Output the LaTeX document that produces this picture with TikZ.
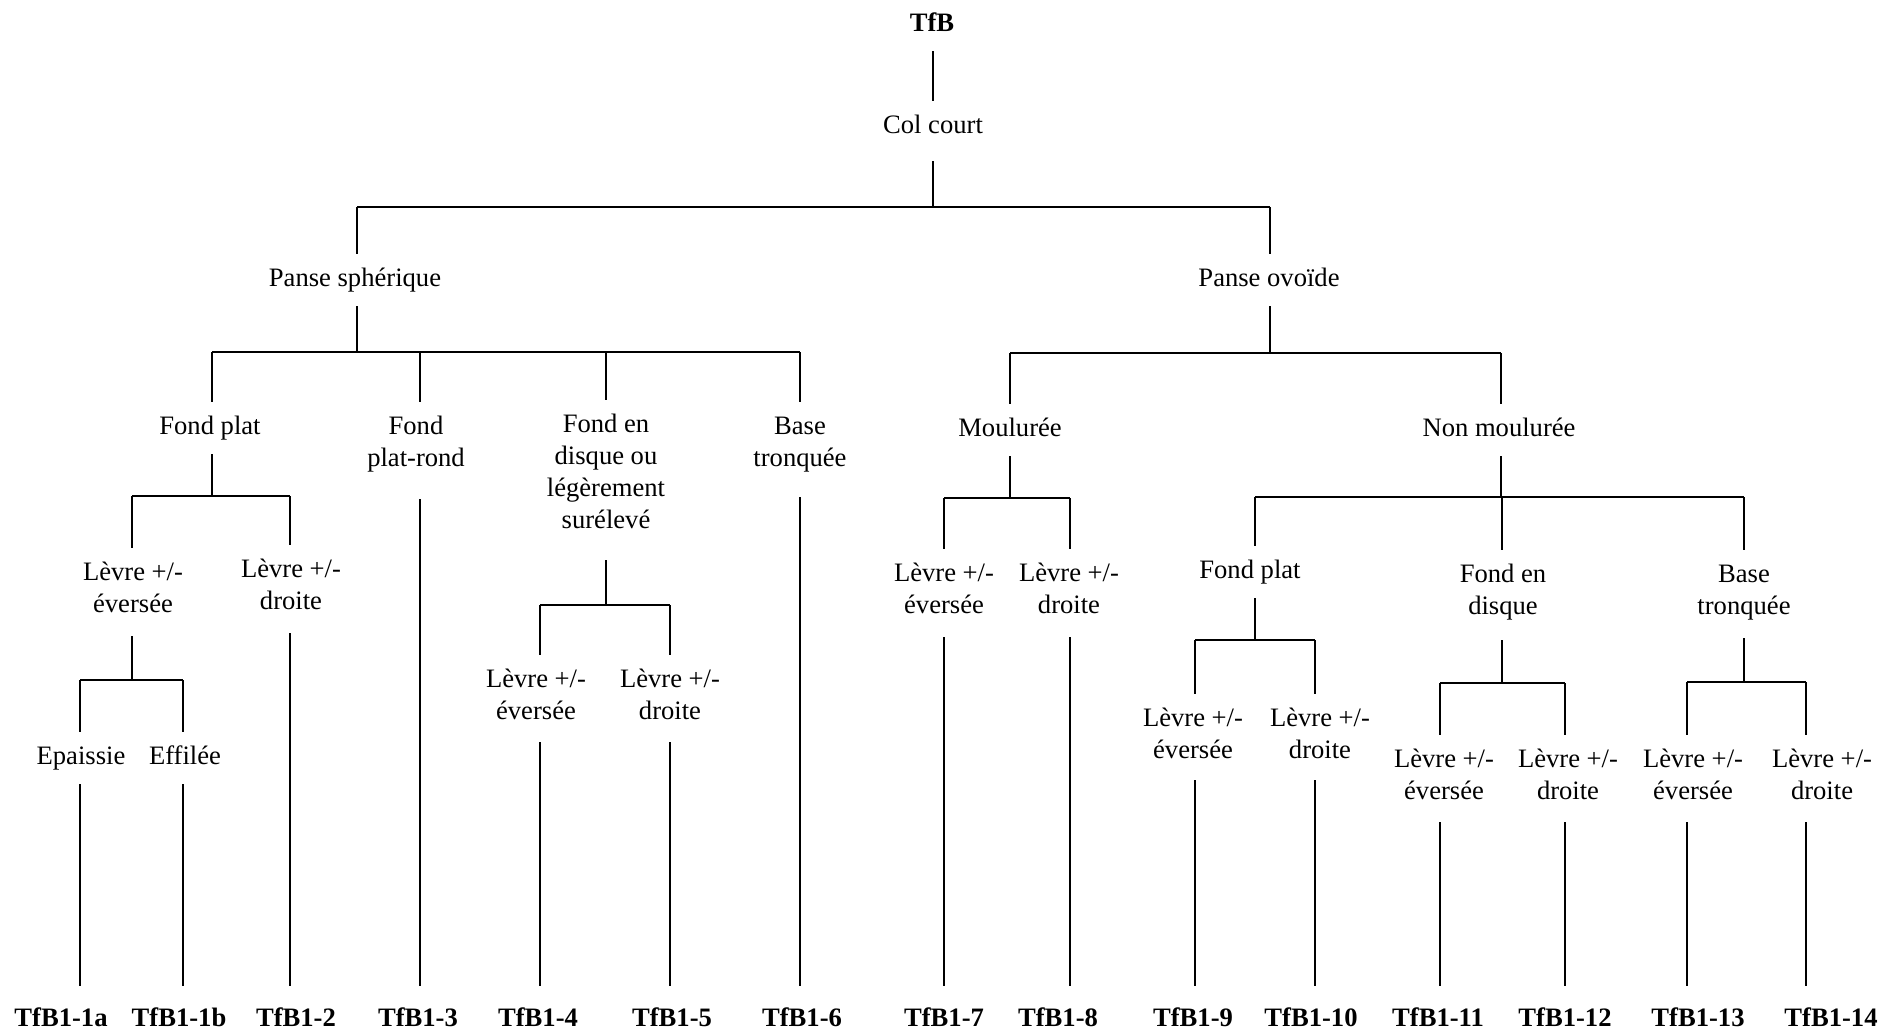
\documentclass[tikz,border=0pt]{standalone}
\usepackage{fontspec}
\setmainfont{Liberation Serif}
\usepackage{tikz}
\newcommand{\ml}[1]{\begin{tabular}{@{}c@{}}#1\end{tabular}}
\tikzstyle{lbl}=[inner xsep=0pt, inner ysep=5pt, outer sep=0pt, font=\fontsize{13.3}{16}\selectfont]
\tikzstyle{code}=[lbl, font=\fontsize{13.3}{16}\selectfont\bfseries]
\tikzstyle{leaf}=[code, inner ysep=9pt]
\tikzstyle{stem}=[line width=0.65pt]
\tikzstyle{bar}=[line width=1.2pt]

\begin{document}
\begin{tikzpicture}[x=0.5pt, y=-0.5pt]
\useasboundingbox (0,0) rectangle (1883,1030);
\node[code] (tfb) at (932,25) {\ml{TfB}};
\node[lbl] (col) at (933,127) {\ml{Col court}};
\node[lbl] (psph) at (355,280) {\ml{Panse sphérique}};
\node[lbl] (povo) at (1269,280) {\ml{Panse ovoïde}};
\node[lbl] (fplat) at (210,428) {\ml{Fond plat}};
\node[lbl] (frond) at (416,444) {\ml{Fond\\plat-rond}};
\node[lbl] (fdisq) at (606,474) {\ml{Fond en\\disque ou\\légèrement\\surélevé}};
\node[lbl] (bas) at (800,444) {\ml{Base\\tronquée}};
\node[lbl] (moul) at (1010,430) {\ml{Moulurée}};
\node[lbl] (nmoul) at (1499,430) {\ml{Non moulurée}};
\node[lbl] (lev1) at (133,590) {\ml{Lèvre +/-\\éversée}};
\node[lbl] (lev2) at (291,587) {\ml{Lèvre +/-\\droite}};
\node[lbl] (epa) at (81,758) {\ml{Epaissie}};
\node[lbl] (eff) at (185,758) {\ml{Effilée}};
\node[lbl] (lev4) at (536,697) {\ml{Lèvre +/-\\éversée}};
\node[lbl] (lev5) at (670,697) {\ml{Lèvre +/-\\droite}};
\node[lbl] (lev7) at (944,591) {\ml{Lèvre +/-\\éversée}};
\node[lbl] (lev8) at (1069,591) {\ml{Lèvre +/-\\droite}};
\node[lbl] (fplr) at (1250,572) {\ml{Fond plat}};
\node[lbl] (fdir) at (1503,592) {\ml{Fond en\\disque}};
\node[lbl] (basr) at (1744,592) {\ml{Base\\tronquée}};
\node[lbl] (lev9) at (1193,736) {\ml{Lèvre +/-\\éversée}};
\node[lbl] (lev10) at (1320,736) {\ml{Lèvre +/-\\droite}};
\node[lbl] (lev11) at (1444,777) {\ml{Lèvre +/-\\éversée}};
\node[lbl] (lev12) at (1568,777) {\ml{Lèvre +/-\\droite}};
\node[lbl] (lev13) at (1693,777) {\ml{Lèvre +/-\\éversée}};
\node[lbl] (lev14) at (1822,777) {\ml{Lèvre +/-\\droite}};
\node[leaf] (t1a) at (61,1020) {\ml{TfB1-1a}};
\node[leaf] (t1b) at (179,1020) {\ml{TfB1-1b}};
\node[leaf] (t2) at (296,1020) {\ml{TfB1-2}};
\node[leaf] (t3) at (418,1020) {\ml{TfB1-3}};
\node[leaf] (t4) at (538,1020) {\ml{TfB1-4}};
\node[leaf] (t5) at (672,1020) {\ml{TfB1-5}};
\node[leaf] (t6) at (802,1020) {\ml{TfB1-6}};
\node[leaf] (t7) at (944,1020) {\ml{TfB1-7}};
\node[leaf] (t8) at (1058,1020) {\ml{TfB1-8}};
\node[leaf] (t9) at (1193,1020) {\ml{TfB1-9}};
\node[leaf] (t10) at (1311,1020) {\ml{TfB1-10}};
\node[leaf] (t11) at (1438,1020) {\ml{TfB1-11}};
\node[leaf] (t12) at (1565,1020) {\ml{TfB1-12}};
\node[leaf] (t13) at (1698,1020) {\ml{TfB1-13}};
\node[leaf] (t14) at (1831,1020) {\ml{TfB1-14}};
\coordinate (jcol) at (933,52);
\coordinate (jpsph) at (357,207);
\coordinate (jpovo) at (1270,207);
\coordinate (jfplat) at (212,352);
\coordinate (jfrond) at (420,352);
\coordinate (jfdisq) at (606,352);
\coordinate (jbas) at (800,352);
\coordinate (jmoul) at (1010,353);
\coordinate (jnmoul) at (1501,353);
\coordinate (jlev1) at (132,496);
\coordinate (jlev2) at (290,496);
\coordinate (jepa) at (80,680);
\coordinate (jeff) at (183,680);
\coordinate (jlev4) at (540,605);
\coordinate (jlev5) at (670,605);
\coordinate (jlev7) at (944,498);
\coordinate (jlev8) at (1070,498);
\coordinate (jfplr) at (1255,497);
\coordinate (jfdir) at (1502,497);
\coordinate (jbasr) at (1744,497);
\coordinate (jlev9) at (1195,640);
\coordinate (jlev10) at (1315,640);
\coordinate (jlev11) at (1440,683);
\coordinate (jlev12) at (1565,683);
\coordinate (jlev13) at (1687,682);
\coordinate (jlev14) at (1806,682);
\draw[stem] (jcol |- tfb.south) -- (jcol |- col.north);
\foreach \p/\a/\b/\s in {col/psph/povo/4, psph/fplat/bas/0, povo/moul/nmoul/0, fplat/lev1/lev2/0, lev1/epa/eff/2, fdisq/lev4/lev5/6, moul/lev7/lev8/0, nmoul/fplr/basr/0, fplr/lev9/lev10/0, fdir/lev11/lev12/3, basr/lev13/lev14/2}{
  \draw[stem, shorten <=\s pt] (j\p |- \p.south) -- (j\p |- j\a);
  \draw[bar] (j\a) -- (j\b);
}
\foreach \c in {psph, povo, fplat, frond, fdisq, bas, moul, nmoul, lev1, lev2, epa, eff, lev4, lev5, lev7, lev8, fplr, fdir, basr, lev9, lev10, lev11, lev12, lev13, lev14}
  \draw[stem] (j\c) -- (j\c |- \c.north);
\foreach \c/\t/\s in {epa/t1a/0, eff/t1b/0, lev2/t2/2, frond/t3/6.5, lev4/t4/1.5, lev5/t5/1.5, bas/t6/5.5, lev7/t7/2, lev8/t8/2, lev9/t9/1, lev10/t10/1, lev11/t11/1.5, lev12/t12/1.5, lev13/t13/1.5, lev14/t14/1.5}
  \draw[stem, shorten <=\s pt] (j\c |- \c.south) -- (j\c |- \t.north);
\end{tikzpicture}
\end{document}
